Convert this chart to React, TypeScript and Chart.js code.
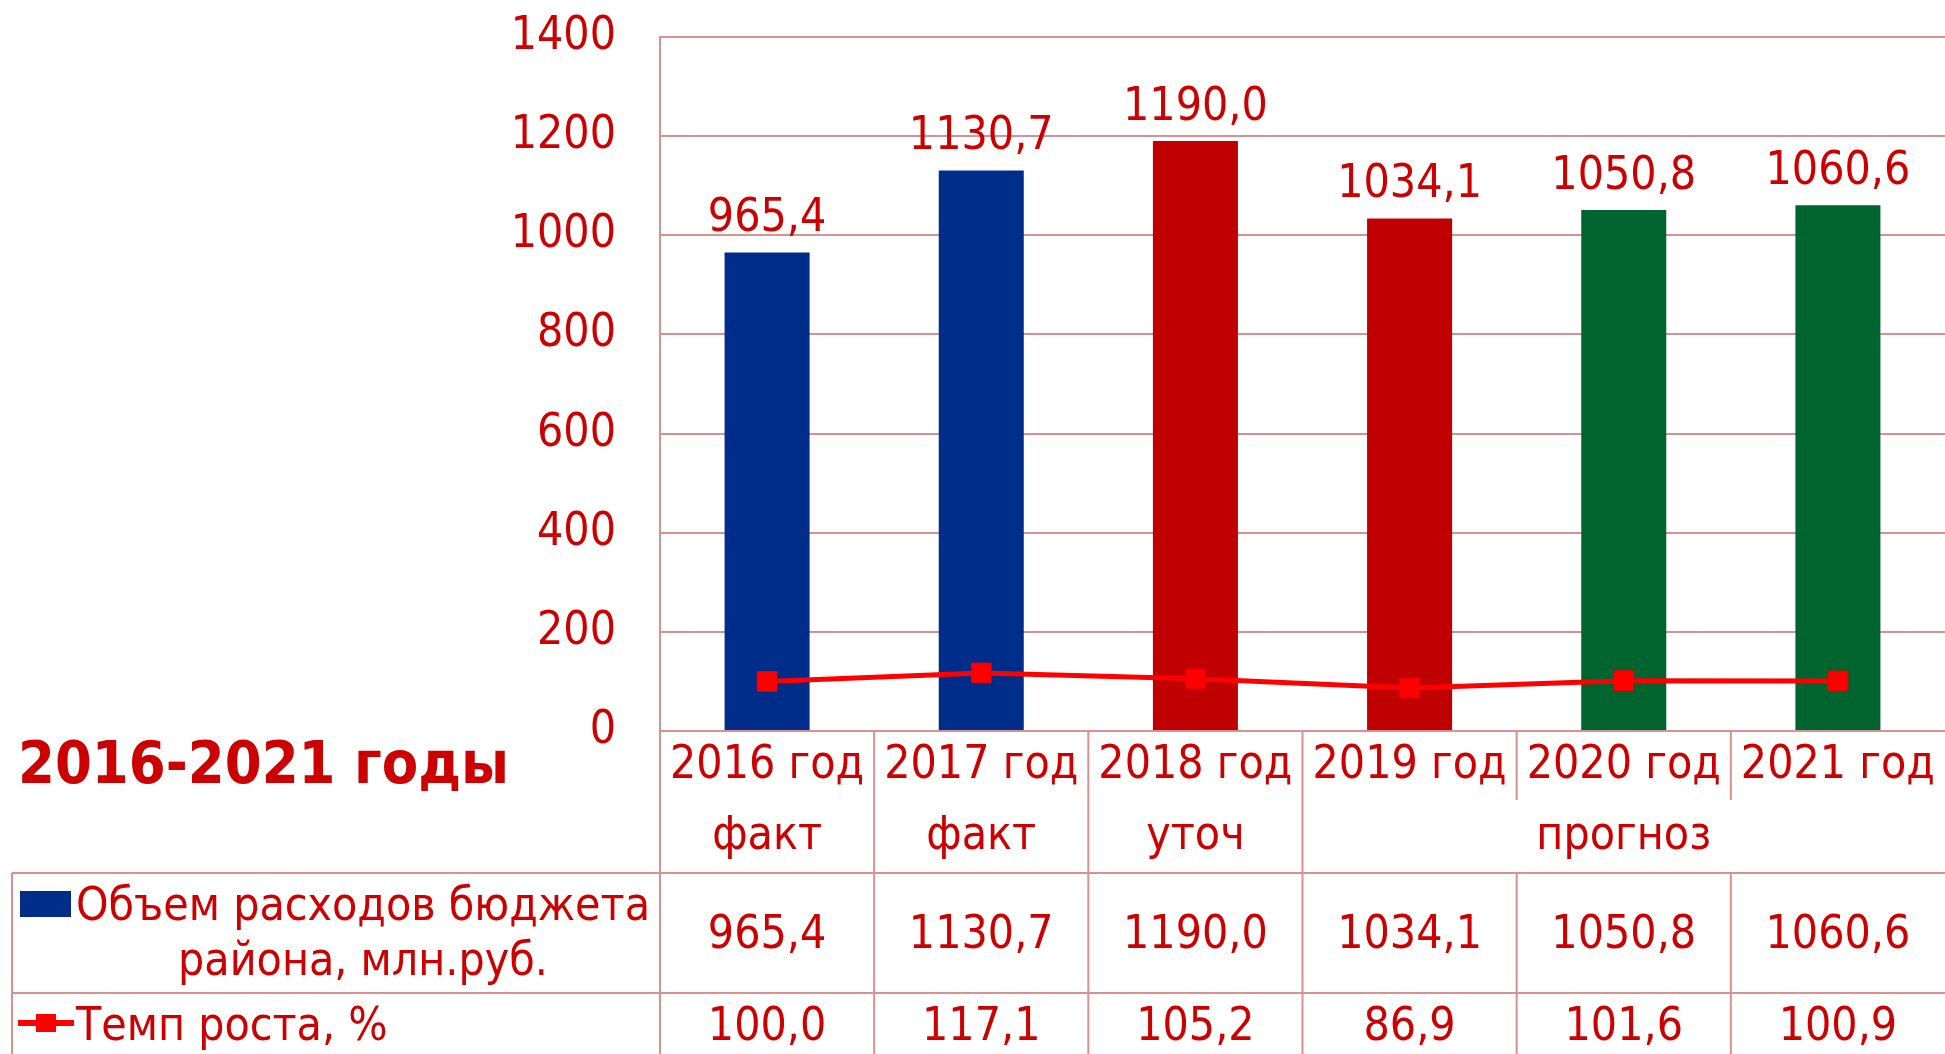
import { useEffect, useRef } from 'react';
import { Chart, registerables } from 'chart.js';

Chart.register(...registerables);

const categories = ['2016 год', '2017 год', '2018 год', '2019 год', '2020 год', '2021 год'];
const subLabels = ['факт', 'факт', 'уточ', '', 'прогноз', ''];
const budget = [965.4, 1130.7, 1190.0, 1034.1, 1050.8, 1060.6];
const growth = [100.0, 117.1, 105.2, 86.9, 101.6, 100.9];
const barColors = ['#002D8A', '#002D8A', '#C00000', '#C00000', '#00642F', '#00642F'];
const budgetName = ['Объем расходов бюджета', 'района, млн.руб.'];
const growthName = 'Темп роста, %';
const title = '2016-2021 годы';
const yMin = 0;
const yMax = 1400;
const yStep = 200;

const FONT = "'DejaVu Sans Condensed', 'DejaVu Sans', sans-serif";
const TEXT = '#CC0000';
const GRID = '#D99090';
const LINE = '#FF0000';
const FS = 46;

const fmt = (v: number) => v.toFixed(1).replace('.', ',');

const tablePlugin = {
  id: 'dataTable',
  afterDraw(chart: any) {
    const ctx = chart.ctx as CanvasRenderingContext2D;
    const area = chart.chartArea;
    const xs = chart.scales.x;
    const n = categories.length;
    const cw = (area.right - area.left) / n;
    const H = chart.height;
    const top = area.bottom;
    const rowA = top + 142;
    const rowB = rowA + 120;
    const tableLeft = 12;
    ctx.save();

    // bar value labels
    const meta = chart.getDatasetMeta(0);
    ctx.fillStyle = TEXT;
    ctx.font = `${FS}px ${FONT}`;
    ctx.textAlign = 'center';
    ctx.textBaseline = 'alphabetic';
    meta.data.forEach((el: any, i: number) => {
      ctx.fillText(fmt(budget[i]), el.x, el.y - 21);
    });

    // table lines
    ctx.strokeStyle = GRID;
    ctx.lineWidth = 2;
    ctx.beginPath();
    for (let i = 0; i < n; i++) {
      const bx = xs.getPixelForValue(i) - cw / 2;
      const headerEnd = i === 4 || i === 5 ? top + 69 : rowA;
      ctx.moveTo(bx, top);
      ctx.lineTo(bx, headerEnd);
      ctx.moveTo(bx, rowA);
      ctx.lineTo(bx, H);
    }
    ctx.moveTo(tableLeft, rowA);
    ctx.lineTo(tableLeft, H);
    ctx.moveTo(tableLeft, rowA);
    ctx.lineTo(area.right, rowA);
    ctx.moveTo(tableLeft, rowB);
    ctx.lineTo(area.right, rowB);
    ctx.stroke();

    // values in table
    ctx.fillStyle = TEXT;
    ctx.font = `${FS}px ${FONT}`;
    ctx.textAlign = 'center';
    ctx.textBaseline = 'alphabetic';
    for (let i = 0; i < n; i++) {
      const cx = xs.getPixelForValue(i);
      ctx.fillText(fmt(budget[i]), cx, rowA + 75);
      ctx.fillText(fmt(growth[i]), cx, rowB + 47);
    }

    // title
    ctx.font = `bold 59px ${FONT}`;
    ctx.textAlign = 'left';
    ctx.fillText(title, 18, top + 52);

    // legend row 1
    ctx.fillStyle = barColors[0];
    ctx.fillRect(20, rowA + 18, 51, 26);
    ctx.fillStyle = TEXT;
    ctx.font = `${FS}px ${FONT}`;
    ctx.textAlign = 'left';
    const w1 = ctx.measureText(budgetName[0]).width;
    ctx.fillText(budgetName[0], 76, rowA + 47);
    ctx.textAlign = 'center';
    ctx.fillText(budgetName[1], 76 + w1 / 2, rowA + 102);

    // legend row 2
    ctx.strokeStyle = LINE;
    ctx.lineWidth = 6;
    ctx.beginPath();
    ctx.moveTo(18, rowB + 30);
    ctx.lineTo(74, rowB + 30);
    ctx.stroke();
    ctx.fillStyle = LINE;
    ctx.fillRect(36, rowB + 21, 20, 18);
    ctx.fillStyle = TEXT;
    ctx.textAlign = 'left';
    ctx.fillText(growthName, 76, rowB + 47);

    ctx.restore();
  },
};

export default function App() {
  const ref = useRef<HTMLCanvasElement>(null);
  useEffect(() => {
    document.body.style.margin = '0';
    const canvas = ref.current!;
    const chart = new Chart(canvas, {
      type: 'bar',
      data: {
        labels: categories.map((c, i) => (subLabels[i] ? [c, subLabels[i]] : c)),
        datasets: [
          {
            type: 'bar',
            label: budgetName.join(' '),
            data: budget,
            backgroundColor: barColors,
            borderWidth: 0,
            barPercentage: 0.397,
            categoryPercentage: 1,
            order: 2,
          },
          {
            type: 'line',
            label: growthName,
            data: growth,
            borderColor: LINE,
            backgroundColor: LINE,
            borderWidth: 5,
            pointStyle: 'rect',
            pointRadius: 14,
            pointBorderColor: '#E80000',
            pointBorderWidth: 1,
            pointBackgroundColor: LINE,
            tension: 0,
            order: 1,
          },
        ],
      },
      options: {
        responsive: false,
        animation: false,
        devicePixelRatio: 1,
        layout: { autoPadding: false, padding: { left: 0, right: 0, top: 37, bottom: 0 } },
        plugins: {
          legend: { display: false },
          tooltip: { enabled: false },
          title: { display: false },
        },
        scales: {
          x: {
            grid: { display: false, drawTicks: false },
            border: { display: false },
            ticks: {
              color: TEXT,
              padding: 0,
              maxRotation: 0,
              autoSkip: false,
              font: { family: FONT, size: FS, lineHeight: 71 / FS },
            },
            afterFit: (s: any) => {
              s.height = 323;
              s.paddingLeft = 0;
              s.paddingRight = 0;
            },
          },
          y: {
            min: yMin,
            max: yMax,
            ticks: {
              stepSize: yStep,
              color: TEXT,
              padding: 44,
              font: { family: FONT, size: FS },
              callback: (v: any) => String(v),
            },
            grid: { color: GRID, lineWidth: 2, drawTicks: false },
            border: { display: true, color: GRID, width: 2 },
            afterFit: (s: any) => {
              s.width = 660;
              s.paddingTop = 0;
              s.paddingBottom = 0;
            },
          },
        },
      },
      plugins: [tablePlugin],
    });
    return () => chart.destroy();
  }, []);
  return (
    <div style={{ width: 1945, height: 1054, overflow: 'hidden' }}>
      <canvas ref={ref} width={1945} height={1054} style={{ display: 'block' }} />
    </div>
  );
}
